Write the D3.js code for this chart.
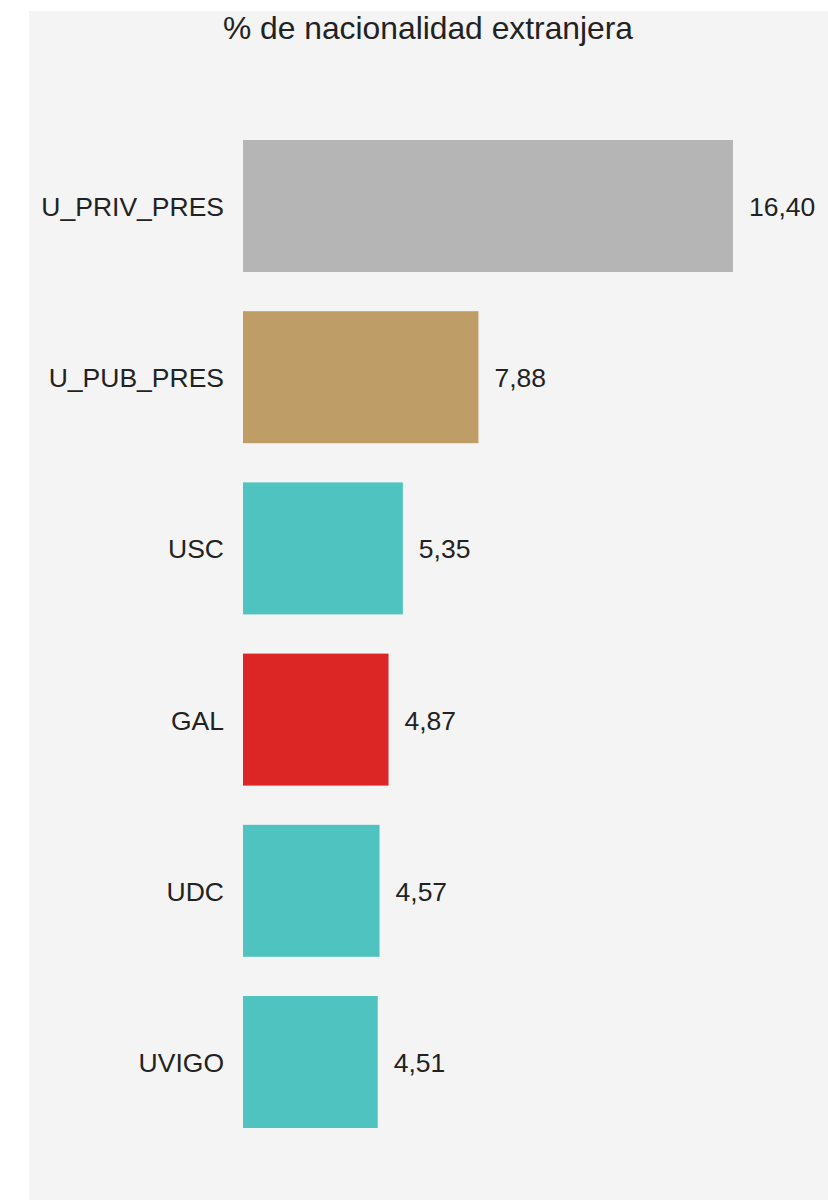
<!DOCTYPE html>
<html>
<head>
<meta charset="utf-8">
<script src="https://cdn.jsdelivr.net/npm/d3@7"></script>
<style>
  body { margin: 0; background: #fff; }
  svg text { font-family: "Liberation Sans", Arial, sans-serif; fill: #222; }
</style>
</head>
<body>
<svg id="chart"></svg>
<script>
// data
const categories = ["U_PRIV_PRES", "U_PUB_PRES", "USC", "GAL", "UDC", "UVIGO"];
const values = [16.40, 7.88, 5.35, 4.87, 4.57, 4.51];
const barColors = ["#b5b5b5", "#bf9d66", "#4fc3bf", "#dc2626", "#4fc3bf", "#4fc3bf"];
const title = "% de nacionalidad extranjera";

const WIDTH = 828, HEIGHT = 1200;
const svg = d3.select("#chart").attr("width", WIDTH).attr("height", HEIGHT);

// panel background
svg.append("rect")
  .attr("x", 29).attr("y", 11)
  .attr("width", WIDTH - 29).attr("height", HEIGHT - 11)
  .attr("fill", "#f4f4f4");

svg.append("text")
  .attr("x", 428).attr("y", 39)
  .attr("text-anchor", "middle")
  .style("font-size", "31.8px")
  .text(title);

const data = categories.map((c, i) => ({name: c, value: values[i], color: barColors[i]}));

const x = d3.scaleLinear().domain([0, 16.40]).range([243, 733]);
const y = d3.scaleBand()
  .domain(categories)
  .range([120.4, 1147.6])
  .paddingInner(0.229)
  .paddingOuter(0.1145);

const fmt = v => d3.format(".2f")(v).replace(".", ",");

const g = svg.append("g");

g.selectAll("rect.bar")
  .data(data)
  .join("rect")
  .attr("class", "bar")
  .attr("x", x(0))
  .attr("y", d => y(d.name))
  .attr("width", d => x(d.value) - x(0))
  .attr("height", y.bandwidth())
  .attr("fill", d => d.color);

// category labels
g.selectAll("text.cat")
  .data(data)
  .join("text")
  .attr("class", "cat")
  .attr("x", x(0) - 19)
  .attr("y", d => y(d.name) + y.bandwidth() / 2)
  .attr("dy", "0.38em")
  .attr("text-anchor", "end")
  .style("font-size", "26.5px")
  .text(d => d.name);

// value labels
g.selectAll("text.val")
  .data(data)
  .join("text")
  .attr("class", "val")
  .attr("x", d => x(d.value) + 16)
  .attr("y", d => y(d.name) + y.bandwidth() / 2)
  .attr("dy", "0.38em")
  .attr("text-anchor", "start")
  .style("font-size", "26.5px")
  .text(d => fmt(d.value));
</script>
</body>
</html>
